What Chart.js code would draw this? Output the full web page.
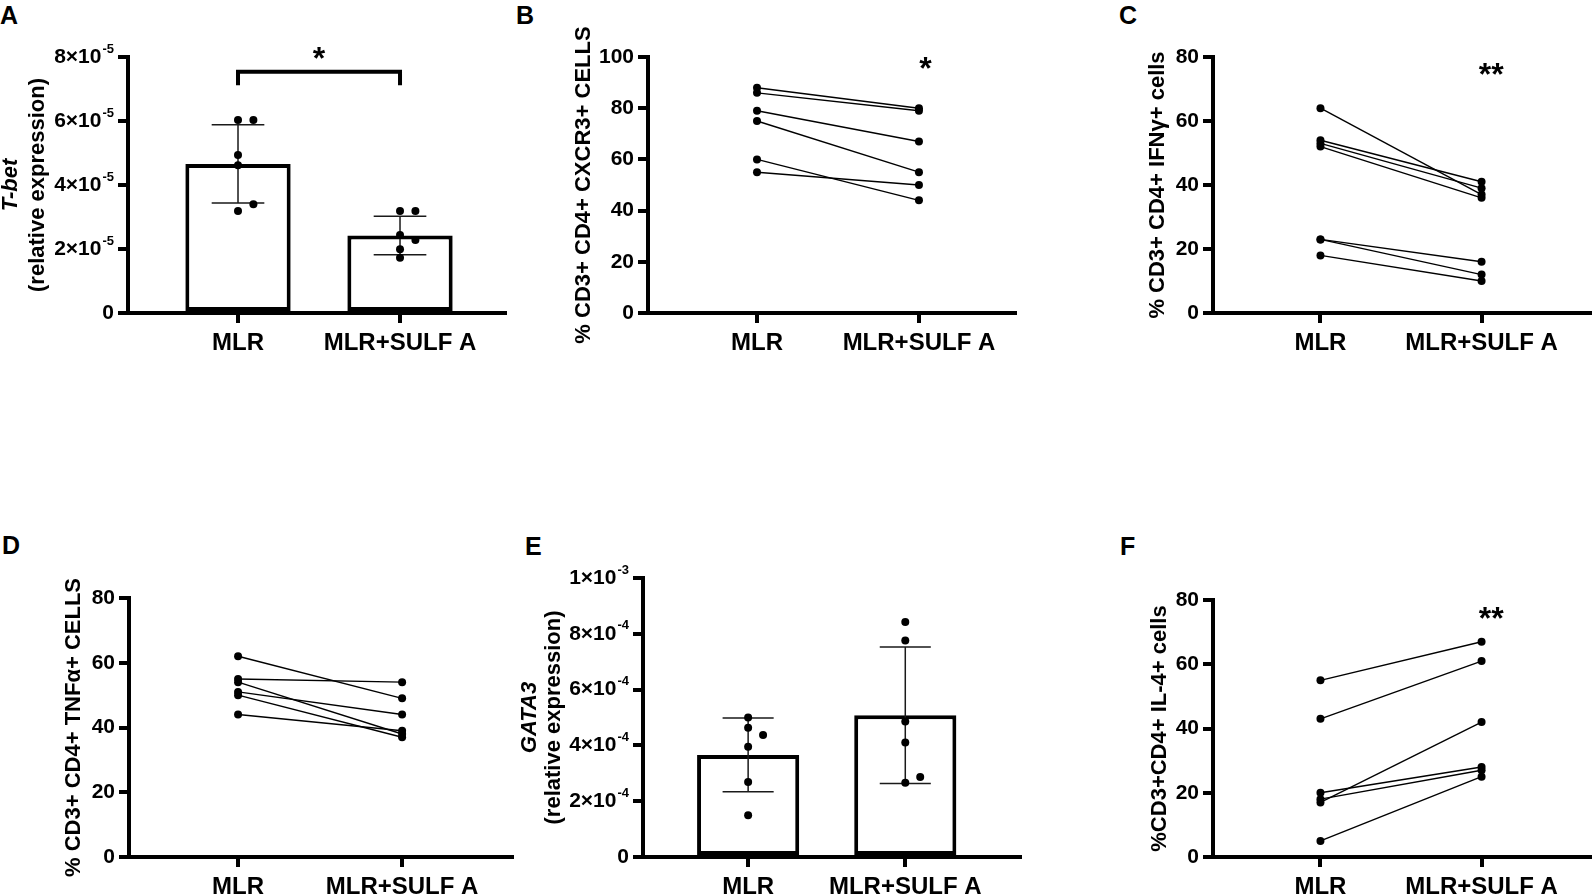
<!DOCTYPE html>
<html>
<head>
<meta charset="utf-8">
<script src="https://cdn.jsdelivr.net/npm/chart.js@4.4.1/dist/chart.umd.min.js"></script>
<style>
  html, body { margin: 0; padding: 0; background: #fff; overflow: hidden; }
  #page { width: 1594px; height: 896px; position: absolute; left: 0; top: 0; }
  canvas { position: absolute; }
  .lbl { position: absolute; font: bold 25px "Liberation Sans", Arial, sans-serif; line-height: 25px; color: #000; }
</style>
</head>
<body>
<div id="page">
<div class="lbl" style="left:0px;top:3px">A</div>
<div class="lbl" style="left:516px;top:3px">B</div>
<div class="lbl" style="left:1119px;top:3px">C</div>
<div class="lbl" style="left:2px;top:533px">D</div>
<div class="lbl" style="left:525px;top:534px">E</div>
<div class="lbl" style="left:1120px;top:534px">F</div>
</div>
<script>
// groups on the x axis
const groups = ["MLR", "MLR+SULF A"];

// A - T-bet relative expression (bars = mean, error = SD)
const tbetMLR = [6.03e-5, 6.03e-5, 4.94e-5, 4.62e-5, 3.19e-5, 3.40e-5];
const tbetSULF = [3.19e-5, 3.19e-5, 2.44e-5, 2.28e-5, 1.99e-5, 1.73e-5];
const tbetMean = [4.66e-5, 2.42e-5];
const tbetSD = [1.22e-5, 0.60e-5];
const tbetTicks = [0, 2e-5, 4e-5, 6e-5, 8e-5];

// B - % CD3+ CD4+ CXCR3+ (paired)
const cxcr3MLR = [88, 86, 79, 75, 60, 55];
const cxcr3SULF = [80, 79, 67, 55, 44, 50];
const cxcr3Ticks = [0, 20, 40, 60, 80, 100];

// C - % CD3+ CD4+ IFNg+ (paired)
const ifngMLR = [64, 54, 53, 52, 23, 23, 18];
const ifngSULF = [37, 41, 39, 36, 16, 12, 10];

// D - % CD3+ CD4+ TNFa+ (paired)
const tnfaMLR = [62, 55, 54, 51, 50, 44];
const tnfaSULF = [49, 54, 38, 44, 37, 39];

// E - GATA3 relative expression
const gata3MLR = [5.0e-4, 4.63e-4, 4.37e-4, 3.95e-4, 2.69e-4, 1.50e-4];
const gata3SULF = [8.42e-4, 7.76e-4, 4.86e-4, 4.10e-4, 2.66e-4, 2.87e-4];
const gata3Mean = [3.66e-4, 5.08e-4];
const gata3SD = [1.32e-4, 2.45e-4];
const gata3Ticks = [0, 2e-4, 4e-4, 6e-4, 8e-4, 1e-3];

// F - % CD3+CD4+ IL-4+ (paired)
const il4MLR = [55, 43, 20, 18, 17, 5];
const il4SULF = [67, 61, 28, 27, 42, 25];

const pctTicks = [0, 20, 40, 60, 80];

const FONT = '"Liberation Sans", Arial, sans-serif';
const page = document.getElementById("page");

// simple beeswarm: push a dot sideways when it would overlap one already placed
function swarm(values, range) {
  const thr = range * 0.03, step = 0.095;
  const placed = [];
  return values.map((v) => {
    for (const off of [0, step, -step, 2 * step, -2 * step]) {
      if (!placed.some((p) => p.off === off && Math.abs(p.v - v) < thr)) {
        placed.push({ v, off });
        return off;
      }
    }
    return 0;
  });
}

function sciParts(v) {
  const e = Math.floor(Math.log10(v) + 1e-9);
  const m = Math.round(v / Math.pow(10, e));
  return [m + "\u00d710", String(e)];
}

function panel(p) {
  const [bl, bt, bw, bh] = p.box;
  const cv = document.createElement("canvas");
  cv.width = bw;
  cv.height = bh;
  cv.style.left = bl + "px";
  cv.style.top = bt + "px";
  page.appendChild(cv);

  const yW = p.area.left - bl;
  const xH = bt + bh - p.area.bottom;
  const yMin = p.yTicks[0], yMax = p.yTicks[p.yTicks.length - 1];
  const datasets = [];

  if (p.bars) {
    datasets.push({
      type: "bar",
      data: p.bars.mean.map((m, i) => ({ x: i + 1, y: m })),
      backgroundColor: "#fff",
      borderColor: "#000",
      borderWidth: 4,
      borderSkipped: false,
      barPercentage: 0.65,
      categoryPercentage: 1,
      order: 2,
    });
    p.dots.forEach((vals, g) => {
      const off = swarm(vals, yMax - yMin);
      datasets.push({
        type: "scatter",
        data: vals.map((v, i) => ({ x: g + 1 + off[i], y: v })),
        pointRadius: 4,
        pointBackgroundColor: "#000",
        pointBorderWidth: 0,
        clip: false,
        order: 1,
      });
    });
  }
  if (p.pairs) {
    const [a, b] = p.pairs;
    a.forEach((v, i) => {
      datasets.push({
        type: "line",
        data: [{ x: 1, y: v }, { x: 2, y: b[i] }],
        borderColor: "#000",
        borderWidth: 1.4,
        pointRadius: 4,
        pointBackgroundColor: "#000",
        pointBorderWidth: 0,
        clip: false,
      });
    });
  }

  const overlay = {
    id: "overlay",
    afterDatasetDraw(chart, args) {
      if (!p.bars || args.meta.type !== "bar") return;
      const ctx = chart.ctx, ys = chart.scales.y;
      ctx.save();
      ctx.strokeStyle = "#1a1a1a";
      ctx.lineWidth = 1.5;
      args.meta.data.forEach((el, i) => {
        const m = p.bars.mean[i], s = p.bars.sd[i];
        const yt = ys.getPixelForValue(m + s), yb = ys.getPixelForValue(m - s);
        const hw = el.width / 4;
        ctx.beginPath();
        ctx.moveTo(el.x, yt); ctx.lineTo(el.x, yb);
        ctx.moveTo(el.x - hw, yt); ctx.lineTo(el.x + hw, yt);
        ctx.moveTo(el.x - hw, yb); ctx.lineTo(el.x + hw, yb);
        ctx.stroke();
      });
      ctx.restore();
    },
    afterDraw(chart) {
      const ctx = chart.ctx, ca = chart.chartArea;
      const xs = chart.scales.x, ys = chart.scales.y;
      ctx.save();
      ctx.fillStyle = "#000";
      ctx.strokeStyle = "#000";

      // y axis title
      const cy = (ca.top + ca.bottom) / 2;
      p.title.forEach((t) => {
        ctx.save();
        ctx.translate(ca.left - t.off, cy);
        ctx.rotate(-Math.PI / 2);
        ctx.font = (t.italic ? "italic " : "") + "bold 22px " + FONT;
        ctx.textAlign = "center";
        ctx.textBaseline = "middle";
        ctx.fillText(t.text, 0, 0);
        ctx.restore();
      });

      // scientific tick labels with superscript exponents
      if (p.sci) {
        const xr = ca.left - 10 - 4;
        ys.ticks.forEach((tk) => {
          const py = ys.getPixelForValue(tk.value);
          ctx.textBaseline = "middle";
          ctx.textAlign = "right";
          if (tk.value === 0) {
            ctx.font = "bold 21px " + FONT;
            ctx.fillText("0", xr, py);
            return;
          }
          const [base, ex] = sciParts(tk.value);
          ctx.font = "bold 13px " + FONT;
          const ew = ctx.measureText(ex).width;
          ctx.fillText(ex, xr, py - 8);
          ctx.font = "bold 21px " + FONT;
          ctx.fillText(base, xr - ew - 1, py);
        });
      }

      // significance bracket
      if (p.bracket) {
        const x1 = xs.getPixelForValue(1), x2 = xs.getPixelForValue(2);
        const y = ys.getPixelForValue(p.bracket.y), yl = ys.getPixelForValue(p.bracket.leg);
        ctx.lineWidth = 4;
        ctx.beginPath();
        ctx.moveTo(x1, yl); ctx.lineTo(x1, y); ctx.lineTo(x2, y); ctx.lineTo(x2, yl);
        ctx.stroke();
      }

      // stars
      (p.stars || []).forEach((s) => {
        ctx.font = "bold 32px " + FONT;
        ctx.textAlign = "center";
        ctx.textBaseline = "alphabetic";
        ctx.fillText(s.text, xs.getPixelForValue(s.x), ys.getPixelForValue(s.y) + 0.58 * 32);
      });
      ctx.restore();
    },
  };

  const axisLine = { color: "#000", width: 4 };
  const tickMarks = { drawOnChartArea: false, tickLength: 10, color: "#000", lineWidth: 4, offset: false };

  new Chart(cv, {
    type: p.bars ? "bar" : "line",
    data: { datasets },
    options: {
      responsive: false,
      animation: false,
      events: [],
      layout: { padding: { top: p.area.top - bt, right: bl + bw - p.area.right, left: 0, bottom: 0 } },
      plugins: { legend: { display: false }, tooltip: { enabled: false } },
      scales: {
        x: {
          type: "linear",
          offset: false,
          min: p.xRange[0],
          max: p.xRange[1],
          afterBuildTicks: (s) => { s.ticks = [{ value: 1 }, { value: 2 }]; },
          afterFit: (s) => { s.height = xH; s.paddingLeft = 0; s.paddingRight = 0; },
          ticks: {
            callback: (v) => groups[Math.round(v) - 1],
            font: { family: FONT, size: 24, weight: "bold" },
            color: "#000",
            padding: 6,
            maxRotation: 0,
            autoSkip: false,
          },
          grid: tickMarks,
          border: axisLine,
        },
        y: {
          type: "linear",
          min: yMin,
          max: yMax,
          afterBuildTicks: (s) => { s.ticks = p.yTicks.map((v) => ({ value: v })); },
          afterFit: (s) => { s.width = yW; },
          ticks: {
            font: { family: FONT, size: 21, weight: "bold" },
            color: p.sci ? "rgba(0,0,0,0)" : "#000",
            padding: 4,
          },
          grid: tickMarks,
          border: axisLine,
        },
      },
    },
    plugins: [overlay],
  });
}

panel({
  box: [0, 0, 540, 448],
  area: { left: 128, top: 57, right: 505, bottom: 313 },
  xRange: [0.321, 2.648],
  yTicks: tbetTicks,
  sci: true,
  title: [{ text: "T-bet", italic: true, off: 117 }, { text: "(relative expression)", off: 90 }],
  bars: { mean: tbetMean, sd: tbetSD },
  dots: [tbetMLR, tbetSULF],
  bracket: { y: 7.54e-5, leg: 7.12e-5 },
  stars: [{ text: "*", x: 1.5, y: 8.22e-5 }],
});

panel({
  box: [540, 0, 560, 448],
  area: { left: 648, top: 57, right: 1015, bottom: 313 },
  xRange: [0.327, 2.593],
  yTicks: cxcr3Ticks,
  title: [{ text: "% CD3+ CD4+ CXCR3+ CELLS", off: 64 }],
  pairs: [cxcr3MLR, cxcr3SULF],
  stars: [{ text: "*", x: 2.04, y: 98.6 }],
});

panel({
  box: [1100, 0, 494, 448],
  area: { left: 1213, top: 57, right: 1592, bottom: 313 },
  xRange: [0.333, 2.673],
  yTicks: pctTicks,
  title: [{ text: "% CD3+ CD4+ IFN\u03b3+ cells", off: 55 }],
  pairs: [ifngMLR, ifngSULF],
  stars: [{ text: "**", x: 2.06, y: 76.9 }],
});

panel({
  box: [0, 448, 520, 448],
  area: { left: 129, top: 598, right: 512, bottom: 857 },
  xRange: [0.335, 2.67],
  yTicks: pctTicks,
  title: [{ text: "% CD3+ CD4+ TNF\u03b1+ CELLS", off: 55 }],
  pairs: [tnfaMLR, tnfaSULF],
});

panel({
  box: [520, 448, 580, 448],
  area: { left: 643, top: 578, right: 1020, bottom: 857 },
  xRange: [0.331, 2.73],
  yTicks: gata3Ticks,
  sci: true,
  title: [{ text: "GATA3", italic: true, off: 113 }, { text: "(relative expression)", off: 89 }],
  bars: { mean: gata3Mean, sd: gata3SD },
  dots: [gata3MLR, gata3SULF],
});

panel({
  box: [1100, 448, 494, 448],
  area: { left: 1213, top: 600, right: 1592, bottom: 857 },
  xRange: [0.333, 2.673],
  yTicks: pctTicks,
  title: [{ text: "%CD3+CD4+ IL-4+ cells", off: 53 }],
  pairs: [il4MLR, il4SULF],
  stars: [{ text: "**", x: 2.06, y: 76.7 }],
});
</script>
</body>
</html>
